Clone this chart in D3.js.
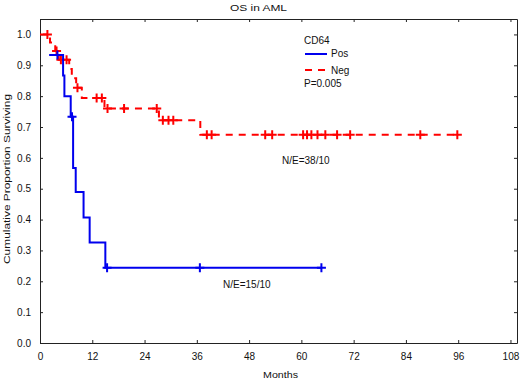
<!DOCTYPE html>
<html>
<head>
<meta charset="utf-8">
<script src="https://cdn.jsdelivr.net/npm/d3@7"></script>
<style>
  body { margin: 0; background: #fff; }
  text { font-family: "Liberation Sans", Arial, sans-serif; fill: #111; }
</style>
</head>
<body>
<div id="chart"></div>
<script>
// Kaplan-Meier steps (months, proportion surviving)
const posTimes = [2.1, 5.3, 5.6, 7.05, 7.6, 8.2, 10.0, 11.4, 15.0, 64.6];
const posSurv  = [0.933, 0.867, 0.80, 0.733, 0.567, 0.489, 0.407, 0.326, 0.244, 0.244];
const posCensor = [4.0, 7.35, 15.4, 36.7, 64.6];

const negTimes = [0, 2.3, 3.5, 4.3, 6.7, 7.3, 8.3, 9.6, 14.8, 27.3, 36.8, 95.8];
const negSurv  = [1.0, 0.974, 0.946, 0.918, 0.888, 0.858, 0.827, 0.794, 0.76, 0.722, 0.675, 0.675];
const negCensor = [1.7, 3.8, 4.8, 6.1, 8.6, 13.0, 14.2, 15.5, 19.3, 26.8, 28.2, 29.5, 30.6,
                   38.3, 39.4, 51.7, 53.3, 60.4, 61.3, 62.3, 63.7, 65.5, 68.2, 71.2, 87.3, 95.8];

const xTicks = [0, 12, 24, 36, 48, 60, 72, 84, 96, 108];
const yTicks = [0, 0.1, 0.2, 0.3, 0.4, 0.5, 0.6, 0.7, 0.8, 0.9, 1.0];

const W = 520, H = 380;
const margin = {top: 19, right: 3, bottom: 37, left: 40};
const width = W - margin.left - margin.right,
      height = H - margin.top - margin.bottom;

const svg = d3.select("#chart").append("svg")
  .attr("width", W).attr("height", H);

const g = svg.append("g")
  .attr("transform", "translate(" + margin.left + "," + margin.top + ")");

const x = d3.scaleLinear().domain([0, 109.5]).range([0, width]);
const y = d3.scaleLinear().domain([0, 1.05]).range([height, 0]);

// axes, ticks pointing inward
const fmtY = d3.format(".1f");
g.append("g").attr("class", "axis")
  .attr("transform", "translate(0," + height + ")")
  .call(d3.axisBottom(x).tickValues(xTicks).tickSizeInner(-3).tickSizeOuter(0).tickPadding(10));
g.append("g").attr("class", "axis")
  .call(d3.axisLeft(y).tickValues(yTicks).tickFormat(fmtY).tickSizeInner(-3).tickSizeOuter(0).tickPadding(9));
g.append("g").attr("class", "axis")
  .call(d3.axisTop(x).tickValues(xTicks).tickSizeInner(-3).tickSizeOuter(0).tickFormat(""));
g.append("g").attr("class", "axis")
  .attr("transform", "translate(" + width + ",0)")
  .call(d3.axisRight(y).tickValues(yTicks).tickSizeInner(-3).tickSizeOuter(0).tickFormat(""));

g.selectAll(".axis text").style("font-size", "10px").attr("fill", "#111");
g.selectAll(".axis path").attr("stroke", "#222");
g.selectAll(".axis line").attr("stroke", "#222");

// step lookup for censor marks
function survAt(times, surv, t) {
  let s = surv[0];
  for (let i = 0; i < times.length; i++) { if (times[i] <= t) s = surv[i]; }
  return s;
}

const line = d3.line()
  .x(d => x(d[0])).y(d => y(d[1]))
  .curve(d3.curveStepAfter);

function drawCurve(times, surv, censor, color, dash) {
  const pts = times.map((t, i) => [t, surv[i]]);
  g.append("path")
    .attr("d", line(pts))
    .attr("fill", "none")
    .attr("stroke", color)
    .attr("stroke-width", 2)
    .attr("stroke-dasharray", dash);
  g.append("g").selectAll("path")
    .data(censor)
    .enter().append("path")
      .attr("transform", d => "translate(" + x(d) + "," + y(survAt(times, surv, d)) + ")")
      .attr("d", "M-4.5,0H4.5M0,-4.5V4.5")
      .attr("stroke", color)
      .attr("stroke-width", 2);
}

drawCurve(negTimes, negSurv, negCensor, "#ff0000", "7,6");
drawCurve(posTimes, posSurv, posCensor, "#0000ee", null);

// title and axis labels (the source text is a bit stretched horizontally)
svg.append("text").attr("x", 230).attr("y", 11)
  .attr("textLength", 57).attr("lengthAdjust", "spacingAndGlyphs")
  .style("font-size", "9.5px").text("OS in AML");
svg.append("text").attr("x", 263).attr("y", 378)
  .attr("textLength", 35).attr("lengthAdjust", "spacingAndGlyphs")
  .style("font-size", "9.5px").text("Months");
svg.append("text")
  .attr("transform", "translate(10,264) rotate(-90)")
  .attr("textLength", 170).attr("lengthAdjust", "spacingAndGlyphs")
  .style("font-size", "9.5px")
  .text("Cumulative Proportion Surviving");

// legend
const lg = svg.append("g").style("font-size", "10px");
lg.append("text").attr("x", 304).attr("y", 44).text("CD64");
lg.append("line").attr("x1", 305).attr("x2", 327).attr("y1", 54).attr("y2", 54)
  .attr("stroke", "#0000ee").attr("stroke-width", 2);
lg.append("text").attr("x", 331).attr("y", 57).text("Pos");
lg.append("line").attr("x1", 305).attr("x2", 327).attr("y1", 70).attr("y2", 70)
  .attr("stroke", "#ff0000").attr("stroke-width", 2).attr("stroke-dasharray", "7,6");
lg.append("text").attr("x", 331).attr("y", 74).text("Neg");
lg.append("text").attr("x", 304).attr("y", 87).text("P=0.005");

// N/E annotations
svg.append("text").attr("x", 282).attr("y", 164).style("font-size", "10px").text("N/E=38/10");
svg.append("text").attr("x", 223).attr("y", 288).style("font-size", "10px").text("N/E=15/10");
</script>
</body>
</html>
